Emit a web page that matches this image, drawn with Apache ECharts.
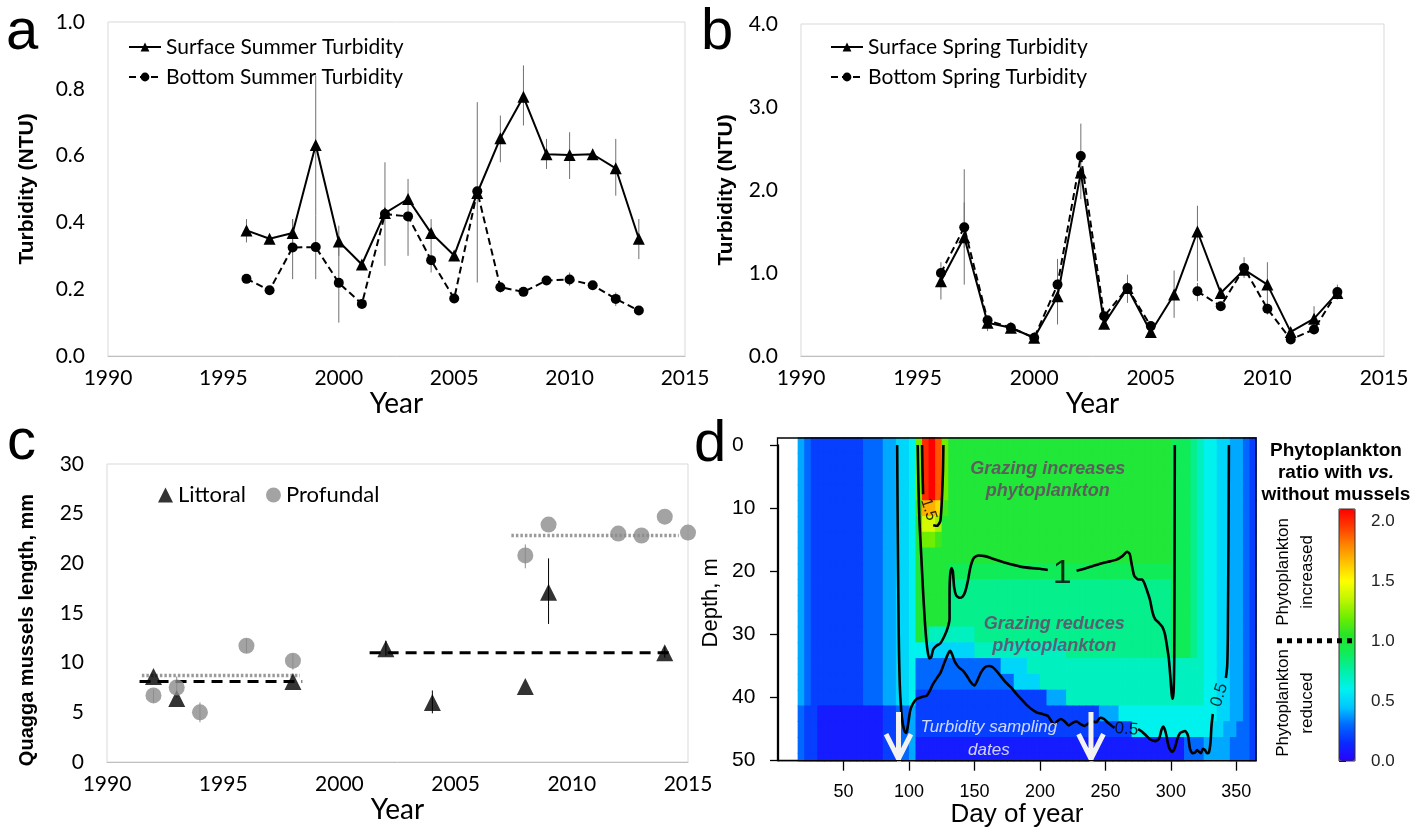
<!DOCTYPE html>
<html>
<head>
<meta charset="utf-8">
<script src="https://cdn.jsdelivr.net/npm/echarts@6/dist/echarts.min.js"></script>
<style>
  html, body { margin: 0; padding: 0; background: #fff; }
  #chart { width: 1419px; height: 829px; }
</style>
</head>
<body>
<div id="chart"></div>
<script>
// ---- panel a / b : turbidity by year ----
var years = [1996, 1997, 1998, 1999, 2000, 2001, 2002, 2003, 2004, 2005, 2006, 2007, 2008, 2009, 2010, 2011, 2012, 2013];
var surfSummer = [0.376, 0.351, 0.368, 0.632, 0.343, 0.274, 0.428, 0.470, 0.368, 0.301, 0.488, 0.652, 0.776, 0.604, 0.602, 0.604, 0.562, 0.351];
var botSummer = [0.231, 0.197, 0.325, 0.326, 0.219, 0.156, 0.425, 0.418, 0.287, 0.172, 0.493, 0.206, 0.192, 0.226, 0.229, 0.212, 0.171, 0.136];
// [year, low, high]
var surfSummerErr = [[1996, 0.34, 0.41], [1997, 0.34, 0.36], [1998, 0.33, 0.41], [1999, 0.42, 0.84], [2000, 0.30, 0.39],
  [2002, 0.27, 0.58], [2003, 0.41, 0.53], [2004, 0.32, 0.41], [2005, 0.29, 0.31], [2006, 0.22, 0.76], [2007, 0.58, 0.72],
  [2008, 0.69, 0.87], [2009, 0.56, 0.65], [2010, 0.53, 0.67], [2011, 0.59, 0.62], [2012, 0.48, 0.65], [2013, 0.29, 0.41]];
var botSummerErr = [[1996, 0.22, 0.24], [1998, 0.23, 0.41], [1999, 0.23, 0.42], [2000, 0.10, 0.33], [2003, 0.30, 0.42],
  [2004, 0.25, 0.32], [2007, 0.19, 0.22], [2010, 0.21, 0.25], [2012, 0.15, 0.19]];

var surfSpring = [0.90, 1.43, 0.40, 0.34, 0.22, 0.72, 2.21, 0.39, 0.82, 0.29, 0.74, 1.50, 0.76, 1.04, 0.86, 0.29, 0.45, 0.76];
var botSpring = [1.00, 1.55, 0.43, 0.34, 0.22, 0.86, 2.41, 0.48, 0.82, 0.36, null, 0.78, 0.60, 1.06, 0.57, 0.20, 0.32, 0.77];
var surfSpringErr = [[1996, 0.68, 1.13], [1997, 0.86, 2.25], [1998, 0.30, 0.46], [2001, 0.38, 1.17], [2002, 1.89, 2.80],
  [2004, 0.64, 0.98], [2006, 0.46, 1.03], [2007, 0.90, 1.81], [2009, 0.94, 1.19], [2010, 0.60, 1.13], [2012, 0.34, 0.60], [2013, 0.68, 0.86]];
var botSpringErr = [[1997, 1.30, 1.85], [2007, 0.66, 0.88], [2010, 0.50, 0.64]];

// ---- panel c : mussel length ----
var littoralYears = [1992, 1993, 1998, 2002, 2004, 2008, 2009, 2014];
var littoral = [8.6, 6.4, 8.1, 11.4, 6.0, 7.6, 17.1, 11.0];
var littoralErr = [[2002, 10.7, 12.2], [2004, 4.9, 7.2], [2009, 13.9, 20.5], [2014, 10.5, 11.6]];
var profundalYears = [1992, 1993, 1994, 1996, 1998, 2008, 2009, 2012, 2013, 2014, 2015];
var profundal = [6.7, 7.5, 5.0, 11.7, 10.2, 20.8, 23.9, 23.0, 22.8, 24.7, 23.1];
var profundalErr = [[1992, 6.0, 7.3], [1993, 6.5, 8.6], [1994, 4.0, 6.0], [1996, 11.0, 12.4], [1998, 9.3, 10.9], [2008, 19.5, 21.9]];
// [from year, to year, mean]
var littoralMeans = [[1991.4, 1998.4, 8.1], [2001.3, 2014.3, 11.0]];
var profundalMeans = [[1991.5, 1998.3, 8.7], [2007.4, 2014.6, 22.8]];

// ---- panel d : ratio with/without mussels, day of year x depth ----
// each row is one depth band (2.5 m), each value one 5-day column starting at day 15, "v*n" = n times
var heatDay0 = 15, heatDayStep = 5, heatDepth0 = -1.25, heatDepthStep = 2.5;
var L0 = '0.4 0.3 0.2*8 0.3*3 0.4*2 0.5*2 0.6';
var L1 = '0.3 0.2*2 0.1*10 0.2*2 0.3*2 0.4';
var R0 = '0.9*3 0.8 0.7 0.6*2 0.5*2 0.4*2 0.3 0.2';
var R1 = '0.7*5 0.6*2 0.5*2 0.4*2 0.3 0.2';
var heatRows = [
  L0 + ' 1.2 2.0 2.1 1.9 1.2 1.0*34 ' + R0,
  L0 + ' 1.2 2.0 2.1 1.9 1.2 1.0*34 ' + R0,
  L0 + ' 1.2 2.0 2.1 1.9 1.2 1.0*34 ' + R0,
  L0 + ' 1.2 2.0 2.1 1.9 1.2 1.0*34 ' + R0,
  L0 + ' 1.1 1.7 1.7 1.6 1.1 1.0*34 ' + R0,
  L0 + ' 1.0 1.4 1.4 1.3 1.0*35 ' + R0,
  L0 + ' 1.0 1.2 1.2 1.1 1.0*35 ' + R0,
  L0 + ' 1.0*39 ' + R0,
  L0 + ' 1.0*5 0.9*34 ' + R0,
  L0 + ' 1.0*5 0.8*34 ' + R0,
  L0 + ' 1.0*5 0.8*34 ' + R0,
  L0 + ' 1.0*5 0.8*34 ' + R0,
  L0 + ' 1.0 0.9 0.7*7 0.8*30 ' + R0,
  L0 + ' 0.6*2 0.5*7 0.7*14 0.8*16 ' + R0,
  L0 + ' 0.3*13 0.5*4 0.7*22 ' + R1,
  L0 + ' 0.3*15 0.5*4 0.7*20 ' + R1,
  L0 + ' 0.2*20 0.4*3 0.7*16 ' + R1,
  L1 + ' 0.2*28 0.4*3 0.6*8 0.6*7 0.5*2 0.4*2 0.3 0.2',
  L1 + ' 0.2*33 0.6*6 0.6*6 0.5*2 0.4*2 0.3*2 0.2',
  L1 + ' 0.1*39 0.1*2 0.3*3 0.4*4 0.3*3 0.2',
  L1 + ' 0.1*39 0.1*2 0.3*3 0.4*4 0.3*3 0.2'
];
var contours = [
  // level 1
  [[106.7, 0], [107.2, 6], [108, 12], [109.5, 18], [111, 24], [112.5, 29], [114, 32.3], [115.5, 33.8], [117, 33.6], [118.5, 32.4],
   [121, 31.8], [124, 31.4], [127, 30.3], [129.5, 29], [131, 27.5], [131, 23], [131.5, 20.5], [132.5, 19.5], [133.5, 20],
   [134.5, 22.5], [136, 23.8], [138.5, 24.2], [141, 24], [143, 23.2], [145, 21.5], [147, 19.3], [149.5, 17.9], [153, 17.5],
   [158, 17.6], [164, 18], [170, 18.4], [178, 18.9], [186, 19.3], [194, 19.5], [200, 19.6], [206, 19.8]],
  [[228, 19.9], [234, 19.6], [240, 19.2], [246, 18.8], [252, 18.5], [258, 18.2], [263, 17.6], [266.5, 16.9], [268.5, 17.2],
   [270, 18.8], [272, 20.7], [275, 21.3], [278, 21.3], [280, 22], [282, 23.2], [284, 24.5], [286, 26.5], [288, 27.6], [291, 28.2],
   [293.5, 28.8], [295.5, 30], [297, 31.8], [298.5, 34], [299.7, 37], [300.7, 39.6], [301.5, 40.2], [302.2, 38.5], [302.6, 33],
   [302.8, 20], [303, 0]],
  // level 1.5
  [[110, 0], [110.3, 4], [110.8, 7.8]],
  [[118.5, 12.7], [121.5, 12.8], [124, 12], [125.3, 8], [126, 4], [126.3, 0]],
  // level 0.5
  [[91, 0], [91.3, 10], [91.7, 20], [92.2, 30], [93, 38], [94.5, 43], [96.5, 45.3], [98, 45.6], [99.5, 44], [101, 42], [103, 41],
   [106, 40.2], [110, 39.9], [113.5, 39.7], [116, 38.9], [118, 38], [121, 37], [124, 36.1], [127, 34.5], [130, 33], [131.5, 32.6],
   [133, 33.2], [135, 34.3], [138, 35.2], [141, 35.7], [144, 36.5], [147, 37.5], [150, 38.1], [152, 37.4], [155, 36], [158, 35.2],
   [161, 35], [164, 35.2], [167, 35.8], [170, 36.6], [174, 37.6], [178, 38.4], [182, 39.4], [186, 40.3], [190, 41.2], [194, 41.9],
   [198, 42.4], [202, 42.6], [206, 42.9], [209, 43.8], [211, 44.3], [213, 43.8], [216, 43.4], [219, 43.8], [222, 44.4], [225, 44],
   [228, 43.8], [231, 44.2], [234, 44.5], [237, 44.1], [240, 43.8], [243, 43.9], [246, 43.2], [249, 43.4], [252, 44], [255, 44.5],
   [257, 44.8]],
  [[275, 45], [278, 45.4], [281, 46], [284, 46.6], [288, 46.9], [291, 46.5], [293, 45], [294.3, 44.6], [296, 45.5], [298, 47.5],
   [299.5, 48.3], [301, 48.6], [303, 48], [305, 46.5], [307, 45.6], [309, 45.4], [311, 45.3], [313, 46], [314.7, 48.2],
   [316.5, 48.8], [318.5, 48.7], [320, 48.3], [321.5, 48.6], [323, 48.8], [324.5, 48.1], [326, 48.3], [327.5, 48.8], [329, 48.7],
   [330.3, 47], [331, 44.5], [332, 42.6]],
  [[342, 36.9], [343, 35], [343.5, 30], [344, 15], [344.3, 0]]
];
var contourLabels = [
  { text: '1', day: 217, depth: 20.4, size: 34, rotate: 0 },
  { text: '1.5', day: 115, depth: 10.2, size: 16, rotate: -72 },
  { text: '0.5', day: 266, depth: 45, size: 17, rotate: -4 },
  { text: '0.5', day: 337, depth: 39.6, size: 17, rotate: 72 }
];
var samplingDays = [92, 239];
var dayTicks = [50, 100, 150, 200, 250, 300, 350];
var colorTicks = [0, 0.5, 1, 1.5, 2];

var SANS = 'Lato, "Open Sans", sans-serif';
var ARIAL = '"Liberation Sans", Arial, sans-serif';

function pairs(xs, ys) {
  return xs.map(function (x, i) { return [x, ys[i]]; });
}
function decodeRow(row) {
  var out = [];
  row.trim().split(/\s+/).forEach(function (t) {
    var p = t.split('*');
    var n = p.length > 1 ? +p[1] : 1;
    for (var k = 0; k < n; k++) out.push(+p[0]);
  });
  return out;
}
function errorBars(data, gi, color) {
  return {
    type: 'custom', xAxisIndex: gi, yAxisIndex: gi, z: 1, silent: true,
    data: data,
    renderItem: function (params, api) {
      var a = api.coord([api.value(0), api.value(2)]);
      var b = api.coord([api.value(0), api.value(1)]);
      return { type: 'line', shape: { x1: a[0], y1: a[1], x2: b[0], y2: b[1] }, style: { stroke: color, lineWidth: 1 } };
    }
  };
}

var cells = [];
heatRows.forEach(function (row, r) {
  decodeRow(row).forEach(function (v, c) {
    cells.push([heatDay0 + c * heatDayStep, heatDepth0 + r * heatDepthStep, v]);
  });
});

var heatColors = ['#2a00ff', '#0a2aff', '#0068ff', '#00c8ff', '#00f2ee', '#00f0a8', '#10ec58', '#28e428',
  '#70ee00', '#c0f600', '#ffff00', '#ffc400', '#ff8400', '#ff3c00', '#ff0000'];

function yearAxis(gi, nameGap) {
  return {
    gridIndex: gi, type: 'value', min: 1990, max: 2015, interval: 5,
    axisLine: { show: true, lineStyle: { color: '#bfbfbf', width: 1 } },
    axisTick: { show: false }, splitLine: { show: false },
    axisLabel: { fontFamily: SANS, fontSize: 21, color: '#000', margin: 12,
      formatter: function (v) { return String(v); } },
    name: 'Year', nameLocation: 'middle', nameGap: nameGap,
    nameTextStyle: { fontFamily: SANS, fontSize: 28, color: '#000' }
  };
}
function leftAxis(gi, max, interval, digits, name, nameGap, nameSize) {
  return {
    gridIndex: gi, type: 'value', min: 0, max: max, interval: interval,
    axisLine: { show: false }, axisTick: { show: false }, splitLine: { show: false },
    axisLabel: { fontFamily: SANS, fontSize: 21, color: '#000', margin: 23,
      formatter: function (v) { return v.toFixed(digits); } },
    name: name, nameLocation: 'middle', nameGap: nameGap,
    nameTextStyle: { fontFamily: ARIAL, fontWeight: 'bold', fontSize: nameSize, color: '#000' }
  };
}
function turbLine(name, gi, ys, symbol, dashed) {
  return {
    name: name, type: 'line', xAxisIndex: gi, yAxisIndex: gi, z: 3,
    data: pairs(years, ys), connectNulls: false,
    symbol: symbol, symbolSize: symbol === 'triangle' ? 12 : 10,
    itemStyle: { color: '#000', borderWidth: 0 },
    lineStyle: { color: '#000', width: 2, type: dashed ? [7, 4] : 'solid' }
  };
}

var series = [];
// a
series.push(errorBars(surfSummerErr, 0, '#707070'));
series.push(errorBars(botSummerErr, 0, '#707070'));
series.push(turbLine('Surface Summer Turbidity', 0, surfSummer, 'triangle', false));
series.push(turbLine('Bottom Summer Turbidity', 0, botSummer, 'circle', true));
// b
series.push(errorBars(surfSpringErr, 1, '#707070'));
series.push(errorBars(botSpringErr, 1, '#707070'));
series.push(turbLine('Surface Spring Turbidity', 1, surfSpring, 'triangle', false));
series.push(turbLine('Bottom Spring Turbidity', 1, botSpring, 'circle', true));
// c
series.push(errorBars(littoralErr, 2, '#000'));
series.push(errorBars(profundalErr, 2, '#8c8c8c'));
littoralMeans.forEach(function (m) {
  series.push({ type: 'line', xAxisIndex: 2, yAxisIndex: 2, z: 2, silent: true, showSymbol: false,
    data: [[m[0], m[2]], [m[1], m[2]]], lineStyle: { color: '#000', width: 3, type: [11, 7] } });
});
profundalMeans.forEach(function (m) {
  series.push({ type: 'line', xAxisIndex: 2, yAxisIndex: 2, z: 2, silent: true, showSymbol: false,
    data: [[m[0], m[2]], [m[1], m[2]]], lineStyle: { color: '#9a9a9a', width: 3.5, type: [2.5, 2] } });
});
series.push({ name: 'Littoral', type: 'scatter', xAxisIndex: 2, yAxisIndex: 2, z: 3, symbol: 'triangle', symbolSize: 17,
  itemStyle: { color: '#000' }, data: pairs(littoralYears, littoral) });
series.push({ name: 'Profundal', type: 'scatter', xAxisIndex: 2, yAxisIndex: 2, z: 3, symbol: 'circle', symbolSize: 16,
  itemStyle: { color: '#8c8c8c' }, data: pairs(profundalYears, profundal) });
// d
var heatIdx = series.length;
series.push({
  type: 'custom', xAxisIndex: 3, yAxisIndex: 3, z: 1, silent: true,
  encode: { x: 0, y: 1 }, data: cells,
  renderItem: function (params, api) {
    var d0 = api.value(0), top = api.value(1);
    var bottom = Math.min(top + heatDepthStep, 50);
    var p0 = api.coord([d0, top]);
    var p1 = api.coord([d0 + heatDayStep, bottom]);
    return { type: 'rect',
      shape: { x: p0[0], y: p0[1], width: p1[0] - p0[0] + 0.8, height: p1[1] - p0[1] + 0.8 },
      style: { fill: api.visual('color') } };
  }
});
contours.forEach(function (c) {
  series.push({ type: 'line', xAxisIndex: 3, yAxisIndex: 3, z: 3, silent: true, showSymbol: false, smooth: 0.2,
    data: c, lineStyle: { color: '#000', width: 2.6 } });
});
samplingDays.forEach(function (d) {
  series.push({ type: 'line', xAxisIndex: 3, yAxisIndex: 3, z: 4, silent: true, showSymbol: false,
    data: [[d, 42.3], [d, 49.7], [d - 9.5, 45.8], [d, 49.7], [d + 9.5, 45.8]],
    lineStyle: { color: '#f2f2f2', width: 5, join: 'miter' } });
});
series.push({
  type: 'scatter', xAxisIndex: 3, yAxisIndex: 3, z: 5, silent: true, symbolSize: 1,
  itemStyle: { color: 'rgba(0,0,0,0)' },
  data: contourLabels.map(function (l) {
    return { value: [l.day, l.depth],
      label: { show: true, position: 'inside', formatter: l.text, rotate: l.rotate,
        fontFamily: ARIAL, fontSize: l.size, color: '#000' } };
  }).concat([
    { value: [206, 5.6], label: { show: true, position: 'inside', formatter: 'Grazing increases\nphytoplankton',
      fontFamily: ARIAL, fontSize: 18, fontWeight: 'bold', fontStyle: 'italic', lineHeight: 22, color: '#6e3b66' } },
    { value: [211, 30.1], label: { show: true, position: 'inside', formatter: 'Grazing reduces\nphytoplankton',
      fontFamily: ARIAL, fontSize: 18, fontWeight: 'bold', fontStyle: 'italic', lineHeight: 22, color: '#6e3b66' } },
    { value: [161, 46.5], label: { show: true, position: 'inside', formatter: 'Turbidity sampling\ndates',
      fontFamily: ARIAL, fontSize: 17, fontStyle: 'italic', lineHeight: 23, color: '#fff' } }
  ])
});

var gridBorder = { show: true, borderColor: '#d9d9d9', borderWidth: 1 };
var cAxis = leftAxis(2, 30, 5, 0, '', 70, 20);

var option = {
  animation: false,
  backgroundColor: '#fff',
  grid: [
    Object.assign({ left: 108, top: 22, width: 577, height: 334 }, gridBorder),
    Object.assign({ left: 801, top: 24, width: 583, height: 332 }, gridBorder),
    Object.assign({ left: 107, top: 464, width: 581, height: 298 }, gridBorder),
    { left: 778, top: 445, width: 478, height: 315.7 },
    { left: 1339, top: 509, width: 16, height: 252 }
  ],
  xAxis: [
    yearAxis(0, 33),
    yearAxis(1, 33),
    yearAxis(2, 26),
    {
      gridIndex: 3, type: 'value', min: 0, max: 365, interval: 50,
      axisLine: { show: true, onZero: false, lineStyle: { color: '#000', width: 1.3 } },
      axisTick: { show: true, length: 10, lineStyle: { color: '#000', width: 1.3 }, customValues: dayTicks },
      splitLine: { show: false },
      axisLabel: { fontFamily: ARIAL, fontSize: 18, color: '#000', margin: 22, customValues: dayTicks },
      name: 'Day of year', nameLocation: 'middle', nameGap: 41,
      nameTextStyle: { fontFamily: ARIAL, fontSize: 26, color: '#000' }
    },
    { gridIndex: 4, type: 'value', show: false, min: 0, max: 1 }
  ],
  yAxis: [
    leftAxis(0, 1, 0.2, 1, 'Turbidity (NTU)', 70, 21),
    leftAxis(1, 4, 1, 1, 'Turbidity (NTU)', 64, 21),
    cAxis,
    {
      gridIndex: 3, type: 'value', inverse: true, min: 0, max: 50, interval: 10,
      axisLine: { show: true, onZero: false, lineStyle: { color: '#000', width: 1.3 } },
      axisTick: { show: true, length: 8, lineStyle: { color: '#000', width: 1.3 } },
      splitLine: { show: false },
      axisLabel: { fontFamily: ARIAL, fontSize: 21, color: '#000', margin: 46, align: 'left' },
      name: 'Depth, m', nameLocation: 'middle', nameGap: 56,
      nameTextStyle: { fontFamily: ARIAL, fontSize: 22, color: '#000' }
    },
    {
      gridIndex: 4, type: 'value', position: 'right', min: 0, max: 2.1,
      axisLine: { show: false },
      axisTick: { show: true, length: 7, lineStyle: { color: '#000' }, customValues: colorTicks },
      splitLine: { show: false },
      axisLabel: { fontFamily: ARIAL, fontSize: 17, color: '#222', margin: 16, customValues: colorTicks,
        formatter: function (v) { return v.toFixed(1); } }
    }
  ],
  legend: [
    { data: ['Surface Summer Turbidity', 'Bottom Summer Turbidity'], orient: 'vertical', left: 123, top: 31,
      itemWidth: 32, itemHeight: 11, itemGap: 8, selectedMode: false,
      textStyle: { fontFamily: SANS, fontSize: 21, color: '#000', lineHeight: 22 } },
    { data: ['Surface Spring Turbidity', 'Bottom Spring Turbidity'], orient: 'vertical', left: 825, top: 31,
      itemWidth: 32, itemHeight: 11, itemGap: 8, selectedMode: false,
      textStyle: { fontFamily: SANS, fontSize: 21, color: '#000', lineHeight: 22 } },
    { data: ['Littoral', 'Profundal'], orient: 'horizontal', left: 153, top: 479,
      itemWidth: 15, itemHeight: 15, itemGap: 20, selectedMode: false,
      textStyle: { fontFamily: SANS, fontSize: 22, color: '#000' } }
  ],
  visualMap: {
    type: 'continuous', min: 0, max: 2.1, dimension: 2, seriesIndex: heatIdx,
    calculable: false, hoverLink: false, realtime: false, padding: 0,
    left: 1339, top: 509, itemWidth: 16, itemHeight: 252,
    inRange: { color: heatColors }
  },
  graphic: [
    { type: 'text', x: 6, y: 62, z: 100, style: { text: 'a', font: '58px "Liberation Sans", Arial', fill: '#000', textVerticalAlign: 'bottom' } },
    { type: 'text', x: 701, y: 62, z: 100, style: { text: 'b', font: '58px "Liberation Sans", Arial', fill: '#000', textVerticalAlign: 'bottom' } },
    { type: 'text', x: 7, y: 472, z: 100, style: { text: 'c', font: '58px "Liberation Sans", Arial', fill: '#000', textVerticalAlign: 'bottom' } },
    { type: 'text', x: 694, y: 474, z: 100, style: { text: 'd', font: '58px "Liberation Sans", Arial', fill: '#000', textVerticalAlign: 'bottom' } },
    { type: 'text', x: 27, y: 630, z: 100, rotation: Math.PI / 2, style: { text: 'Quagga mussels length, mm',
      font: 'bold 20px "Liberation Sans", Arial', fill: '#000', textAlign: 'center', textVerticalAlign: 'middle' } },
    { type: 'rect', z: 100, silent: true, shape: { x: 777.5, y: 438, width: 478.5, height: 322.7 },
      style: { fill: 'none', stroke: '#000', lineWidth: 1.3 } },
    { type: 'rect', z: 100, silent: true, shape: { x: 1339, y: 509, width: 16, height: 252 },
      style: { fill: 'none', stroke: '#333', lineWidth: 1 } },
    { type: 'text', x: 1336, y: 451, z: 100, style: { text: 'Phytoplankton', font: 'bold 19px "Liberation Sans", Arial',
      fill: '#000', textAlign: 'center', textVerticalAlign: 'middle' } },
    { type: 'text', x: 1336, y: 473, z: 100, style: { text: '{a|ratio with }{b|vs.}', textAlign: 'center', textVerticalAlign: 'middle',
      rich: { a: { font: 'bold 19px "Liberation Sans", Arial', fill: '#000' }, b: { font: 'italic bold 19px "Liberation Sans", Arial', fill: '#000' } } } },
    { type: 'text', x: 1336, y: 495, z: 100, style: { text: 'without mussels', font: 'bold 19px "Liberation Sans", Arial',
      fill: '#000', textAlign: 'center', textVerticalAlign: 'middle' } },
    { type: 'text', x: 1295, y: 572, z: 100, rotation: Math.PI / 2, style: { text: 'Phytoplankton\nincreased',
      font: '17px "Liberation Sans", Arial', lineHeight: 24, fill: '#000', textAlign: 'center', textVerticalAlign: 'middle' } },
    { type: 'text', x: 1295, y: 703, z: 100, rotation: Math.PI / 2, style: { text: 'Phytoplankton\nreduced',
      font: '17px "Liberation Sans", Arial', lineHeight: 24, fill: '#000', textAlign: 'center', textVerticalAlign: 'middle' } },
    { type: 'line', z: 100, silent: true, shape: { x1: 1277, y1: 640.7, x2: 1355, y2: 640.7 },
      style: { stroke: '#000', lineWidth: 5, lineDash: [5, 5] } }
  ],
  series: series
};

var chart = echarts.init(document.getElementById('chart'));
chart.setOption(option);
</script>
</body>
</html>
